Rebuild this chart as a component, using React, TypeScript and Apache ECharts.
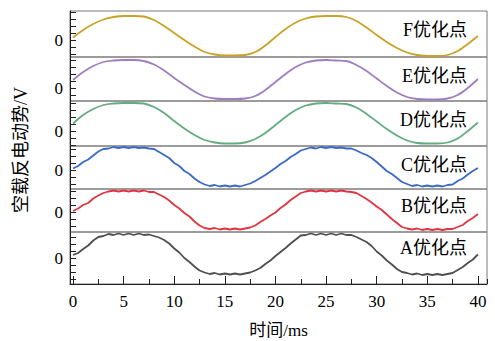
import { useEffect, useRef } from "react";
import * as echarts from "echarts";

// Sample instants (ms)
const timeCoarse = [
  0, 1, 2, 3, 4, 5, 6, 7, 8, 9, 10, 11, 12, 13, 14, 15, 16, 17, 18, 19, 20,
  21, 22, 23, 24, 25, 26, 27, 28, 29, 30, 31, 32, 33, 34, 35, 36, 37, 38, 39, 40,
];
const timeFine = [
  0, 0.5, 1, 1.5, 2, 2.5, 3, 3.5, 4, 4.5, 5, 5.5, 6, 6.5, 7, 7.5, 8, 8.5, 9, 9.5,
  10, 10.5, 11, 11.5, 12, 12.5, 13, 13.5, 14, 14.5, 15, 15.5, 16, 16.5, 17, 17.5,
  18, 18.5, 19, 19.5, 20, 20.5, 21, 21.5, 22, 22.5, 23, 23.5, 24, 24.5, 25, 25.5,
  26, 26.5, 27, 27.5, 28, 28.5, 29, 29.5, 30, 30.5, 31, 31.5, 32, 32.5, 33, 33.5,
  34, 34.5, 35, 35.5, 36, 36.5, 37, 37.5, 38, 38.5, 39, 39.5, 40,
];

// No-load back-EMF of each optimised design (V)
const emfF = [
  2.5, 10, 16, 20.5, 23, 24, 24, 23.5, 20, 14, 7, 0, -6.5, -12, -14.5, -15.5,
  -15.5, -15, -12, -5.5, 3, 11, 17.5, 21.5, 23.5, 24, 24, 23, 19, 12.5, 5, -2,
  -8, -12.5, -15, -16, -16, -15, -11, -4, 4,
];
const emfE = [
  8, 16, 22, 26, 27.5, 28, 28, 27, 23.5, 17.5, 10, 3, -3.5, -8.5, -10.5, -11,
  -11, -10.5, -8, -2, 6, 14, 21, 25.5, 27.5, 28, 27.5, 27, 23, 17, 9.5, 2, -4.5,
  -9, -11, -11.5, -11.5, -10.5, -7, 0, 9,
];
const emfD = [
  7.5, 16, 22, 26, 27.5, 28, 28, 27.5, 24, 18, 10, 2.5, -4, -9, -11.5, -12.5,
  -12.5, -11.5, -8, -2, 6, 14, 21, 25.5, 27.5, 28, 27.5, 27, 23.5, 17, 9.5, 2,
  -4.5, -9.5, -12, -12.5, -12.5, -11.5, -7.5, 0, 8.5,
];
const emfC = [
  2, 4.5, 8.5, 11, 15, 19, 21.5, 22, 23.5, 22.5, 23.5, 22.5, 23.5, 22.5, 23, 22,
  21.5, 18.5, 15.5, 12.5, 7.5, 4.5, -0.5, -3.5, -8, -11.5, -14, -15.5, -14.5,
  -16, -15, -16, -15, -16, -14.5, -13, -10.5, -7.5, -4.5, -1, 2.5, 6.5, 9.5,
  13.5, 16.5, 20, 21.5, 23, 22, 23.5, 22.5, 23.5, 22.5, 23, 22, 22, 20, 17.5,
  15.5, 12.5, 8.5, 4, -0.5, -3.5, -7.5, -11.5, -13.5, -15.5, -14.5, -16, -15,
  -16, -15, -16, -14.5, -14, -10.5, -8, -4, -0.5, 2.5,
];
const emfB = [
  1, 3.5, 7, 9, 13.5, 16.5, 19, 20.5, 21.5, 20.5, 21.5, 20.5, 21.5, 20.5, 21.5,
  20, 20, 17.5, 15, 11.5, 7, 3.5, -1, -4.5, -9.5, -13.5, -16, -17, -16, -17.5,
  -16.5, -17.5, -16.5, -17.5, -16.5, -15.5, -13.5, -10, -7, -3.5, -0.5, 4, 7.5,
  12, 15.5, 19, 20.5, 21.5, 20.5, 21.5, 20.5, 21.5, 20.5, 21.5, 20.5, 20, 19,
  16, 13, 9.5, 5.5, 2, -2.5, -7, -11, -15, -16.5, -17.5, -16.5, -18, -17, -18,
  -17, -18, -17, -17, -15, -13, -9, -6, -2,
];
const emfA = [
  3, 5, 9, 12.5, 17.5, 21, 22, 24, 23, 24.5, 23, 24.5, 23, 24.5, 23, 23.5, 22,
  20.5, 18, 14.5, 9.5, 5.5, 0, -4, -8.5, -12.5, -14.5, -16, -15, -16.5, -15.5,
  -16.5, -15.5, -16.5, -15.5, -14.5, -12.5, -10, -6, -2.5, 2, 6, 10, 14.5, 18.5,
  22.5, 23, 24.5, 23, 24.5, 23, 24.5, 23, 24.5, 23, 23, 21, 18.5, 16, 12, 6.5,
  2.5, -2.5, -6.5, -11, -14, -15, -16.5, -15.5, -17, -16, -17, -16, -17, -16,
  -15, -12, -9, -5, -1.5, 3.5,
];

const panelNames = ["F优化点", "E优化点", "D优化点", "C优化点", "B优化点", "A优化点"];
const xAxisTitle = "时间/ms";
const yAxisTitle = "空载反电动势/V";

// Layout of the six stacked panels (top to bottom)
const PANELS = [
  { name: panelNames[0], time: timeCoarse, values: emfF, smooth: 0.35, color: "#C9A227", top: 11, height: 46, yMin: -17, yMax: 29, labelY: 30 },
  { name: panelNames[1], time: timeCoarse, values: emfE, smooth: 0.35, color: "#A07DBE", top: 57, height: 44, yMin: -13, yMax: 31, labelY: 76 },
  { name: panelNames[2], time: timeCoarse, values: emfD, smooth: 0.35, color: "#62AD7D", top: 101, height: 45, yMin: -15, yMax: 30, labelY: 120 },
  { name: panelNames[3], time: timeFine, values: emfC, smooth: false, color: "#3B69C6", top: 146, height: 43, yMin: -18.5, yMax: 24.5, labelY: 165 },
  { name: panelNames[4], time: timeFine, values: emfB, smooth: false, color: "#E0353F", top: 189, height: 43, yMin: -20, yMax: 23, labelY: 206 },
  { name: panelNames[5], time: timeFine, values: emfA, smooth: false, color: "#4F4F4F", top: 232, height: 52, yMin: -26, yMax: 26, labelY: 248 },
];

const FONT = "'Times New Roman', 'Liberation Serif', 'Noto Sans CJK SC', serif";
const LEFT = 70;
const WIDTH = 417;
const X_MIN = -0.3;
const X_MAX = 40.9;

export default function App() {
  const ref = useRef<HTMLDivElement>(null);

  useEffect(() => {
    if (!ref.current) return;
    const chart = echarts.init(ref.current, undefined, { renderer: "svg" });
    const last = PANELS.length - 1;

    const grid = PANELS.map((p) => ({
      left: LEFT,
      width: WIDTH,
      top: p.top,
      height: p.height,
      show: true,
      borderColor: "#7a7a7a",
      borderWidth: 1,
      backgroundColor: "transparent",
    }));

    const xAxis: any[] = PANELS.map((p, i) => {
      const bottom = i === last;
      return {
        type: "value",
        gridIndex: i,
        position: "bottom",
        min: X_MIN,
        max: X_MAX,
        minInterval: 5,
        maxInterval: 5,
        splitLine: { show: false },
        axisLine: { show: bottom, onZero: false, lineStyle: { color: "#222", width: 1 } },
        axisTick: { show: bottom, inside: true, length: 8, lineStyle: { color: "#222", width: 1 } },
        axisLabel: {
          show: bottom,
          color: "#000",
          fontSize: 17,
          fontFamily: FONT,
          margin: 9,
          showMinLabel: false,
          showMaxLabel: false,
          formatter: (v: number) => (Math.abs(v % 5) < 1e-9 ? String(v) : ""),
        },
        name: bottom ? xAxisTitle : "",
        nameLocation: "middle",
        nameGap: 38,
        nameTextStyle: { color: "#000", fontSize: 17, fontFamily: FONT },
      };
    });
    // Half-step ticks along the bottom time axis
    xAxis.push({
      type: "value",
      gridIndex: last,
      position: "bottom",
      min: X_MIN,
      max: X_MAX,
      minInterval: 2.5,
      maxInterval: 2.5,
      splitLine: { show: false },
      axisLine: { show: false, onZero: false },
      axisTick: { show: true, inside: true, length: 5, lineStyle: { color: "#222", width: 1 } },
      axisLabel: { show: false },
    });

    const yAxis = PANELS.map((p, i) => ({
      type: "value",
      gridIndex: i,
      min: p.yMin,
      max: p.yMax,
      minInterval: 7,
      maxInterval: 7,
      splitLine: { show: false },
      axisLine: { show: true, onZero: false, lineStyle: { color: "#222", width: 1 } },
      axisTick: { show: true, inside: true, length: 6, lineStyle: { color: "#222", width: 1 } },
      axisLabel: {
        color: "#000",
        fontSize: 17,
        fontFamily: FONT,
        margin: 7,
        showMinLabel: false,
        showMaxLabel: false,
        formatter: (v: number) => (v === 0 ? "0" : ""),
      },
    }));

    const series = PANELS.map((p, i) => ({
      type: "line",
      name: p.name,
      xAxisIndex: i,
      yAxisIndex: i,
      data: p.time.map((t, k) => [t, p.values[k]]),
      showSymbol: false,
      smooth: p.smooth,
      lineStyle: { color: p.color, width: 1.8 },
      itemStyle: { color: p.color },
      silent: true,
    }));

    const graphic: any[] = PANELS.map((p) => ({
      type: "text",
      x: 467,
      y: p.labelY,
      style: {
        text: p.name,
        fill: "#000",
        font: `18px ${FONT}`,
        align: "right",
        verticalAlign: "middle",
      },
    }));
    graphic.push({
      type: "text",
      x: 21,
      y: 150,
      rotation: Math.PI / 2,
      style: {
        text: yAxisTitle,
        fill: "#000",
        font: `18px ${FONT}`,
        align: "center",
        verticalAlign: "middle",
      },
    });

    chart.setOption({
      animation: false,
      backgroundColor: "#fff",
      grid,
      xAxis,
      yAxis,
      series,
      graphic,
    });

    return () => chart.dispose();
  }, []);

  return (
    <div
      ref={ref}
      style={{ position: "absolute", left: 0, top: 0, width: 495, height: 341 }}
    />
  );
}
